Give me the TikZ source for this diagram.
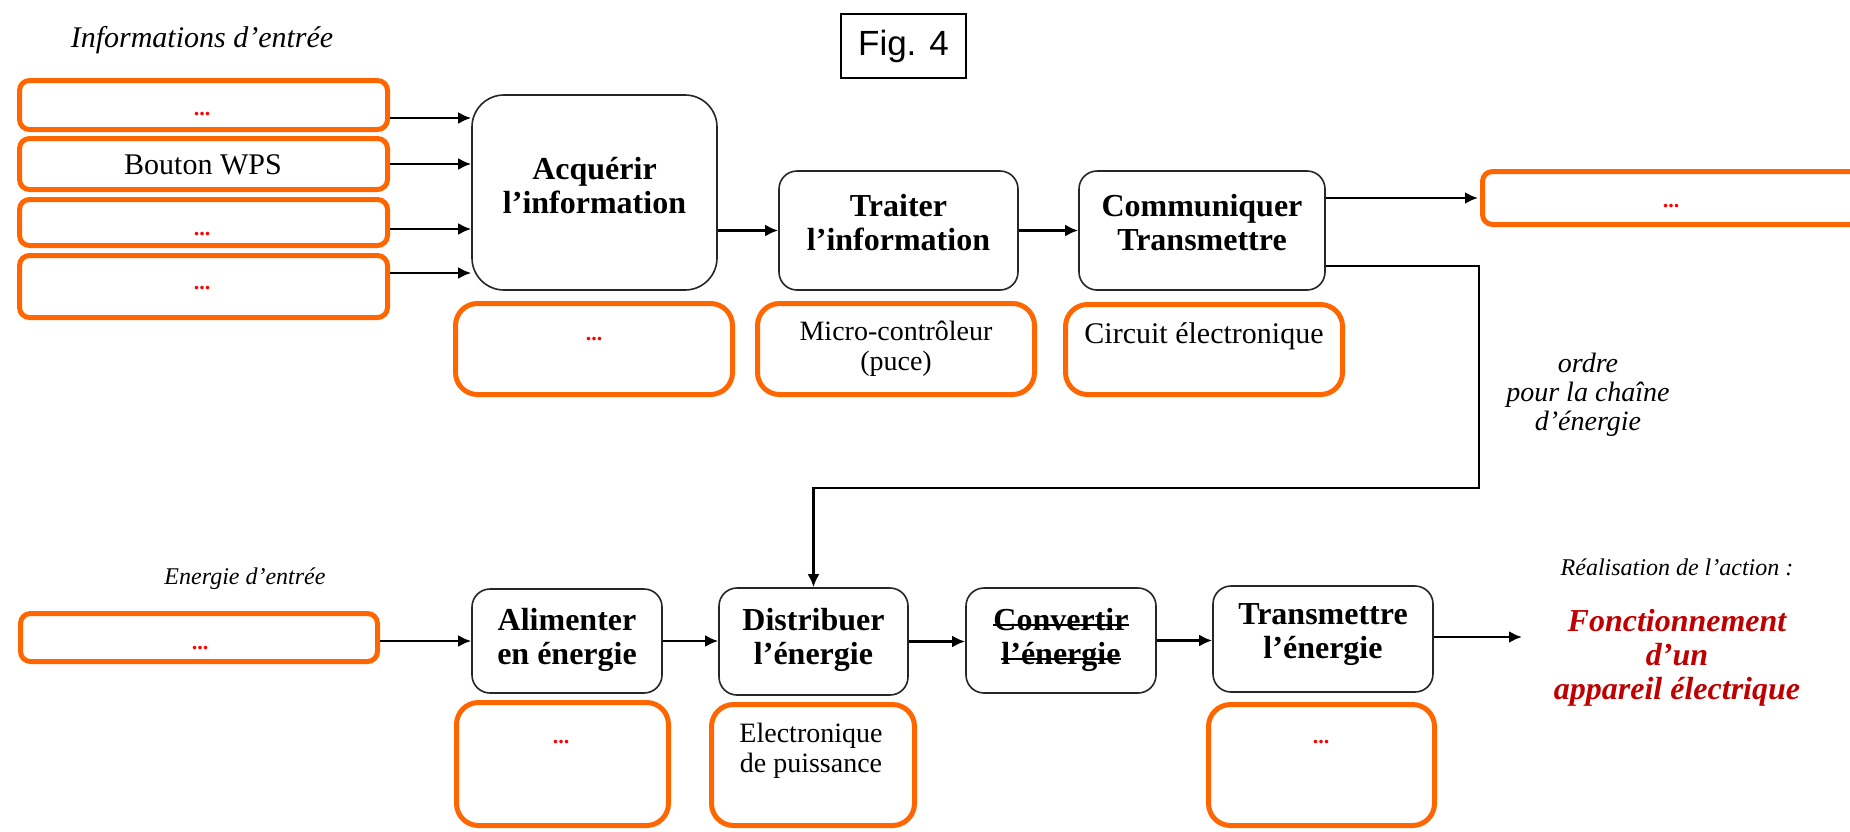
\documentclass[tikz,border=0pt]{standalone}
\usepackage{fontspec}
\setmainfont{Liberation Serif}
\newfontfamily\figfont{Liberation Sans}
\newcommand{\mystrike}[1]{\setbox0\hbox{#1}\rlap{\rule[0.3ex]{\wd0}{1.8pt}}\box0}
\usetikzlibrary{arrows.meta}
\definecolor{ora}{HTML}{FF6600}
\definecolor{fred}{HTML}{C00000}
\definecolor{dotred}{HTML}{FF0000}
\begin{document}
\begin{tikzpicture}[x=1pt,y=-1pt,
  fbox/.style={draw=black!85, line width=1.6pt, rounded corners=#1, inner sep=0pt},
  fbox/.default=18pt,
  obox/.style={draw=ora, line width=5pt, rounded corners=#1, inner sep=0pt},
  obox/.default=10pt,
  lab/.style={font=\fontsize{32}{34}\selectfont\bfseries, align=center, inner sep=0pt},
  subtxt/.style={font=\fontsize{28}{30}\selectfont, align=center, inner sep=0pt},
  dots/.style={text=dotred, font=\fontsize{22}{24}\selectfont\bfseries, anchor=base, inner sep=0pt},
  itl/.style={font=\fontsize{#1}{#1}\selectfont\itshape, inner sep=0pt, align=center},
  arr/.style={line width=2.6pt, -{Latex[length=13pt,width=12pt]}}
]
\useasboundingbox (0,0) rectangle (1850,831);
\fill[white] (0,0) rectangle (1850,831);

% ---- title labels
\node[itl=30] (infoT) at (202,40) {Informations d’entrée};
\node[draw=black, line width=1.5pt, minimum width=125pt, minimum height=64pt, inner sep=0pt,
      font=\figfont\fontsize{35}{35}\selectfont] (fig) at (903.5,46) {Fig. 4};

% ---- input boxes
\node[obox, minimum width=368pt, minimum height=49pt] (in1) at (203.5,105) {};
\node[obox, minimum width=368pt, minimum height=51pt] (in2) at (203.5,164) {};
\node[obox, minimum width=368pt, minimum height=46pt] (in3) at (203.5,222.5) {};
\node[obox, minimum width=368pt, minimum height=62pt] (in4) at (203.5,286.5) {};
\node[dots] (in1T) at (202,115) {...};
\node[anchor=base, inner sep=0pt, font=\fontsize{30}{30}\selectfont] (in2T) at (203,174) {Bouton WPS};
\node[dots] (in3T) at (202,235) {...};
\node[dots] (in4T) at (202,289) {...};

% ---- information chain
\node[fbox=32pt, minimum width=245pt, minimum height=195pt] (acq) at (594.5,192.5) {};
\node[lab] (acqT) at (594.5,186) {Acquérir\\l’information};
\node[obox=22pt, minimum width=277pt, minimum height=91pt] (acqS) at (594,349) {};
\node[dots] (acqST) at (594,340) {...};

\node[fbox, minimum width=239pt, minimum height=119pt] (trait) at (898.5,230.5) {};
\node[lab] (traitT) at (898.5,222.5) {Traiter\\l’information};
\node[obox=22pt, minimum width=277pt, minimum height=91pt] (traitS) at (896,349) {};
\node[subtxt] (traitST) at (896,349) {Micro-contrôleur\\(puce)};

\node[fbox, minimum width=246pt, minimum height=119pt] (comm) at (1202,230.5) {};
\node[lab] (commT) at (1202,223) {Communiquer\\Transmettre};
\node[obox=22pt, minimum width=277pt, minimum height=90pt] (commS) at (1204,349.5) {};
\node[anchor=base, inner sep=0pt, font=\fontsize{30}{30}\selectfont] (commST) at (1204,343) {Circuit électronique};

\node[obox, minimum width=377pt, minimum height=53pt] (out) at (1671,198) {};
\node[dots] (outT) at (1671,207) {...};

\node[inner sep=0pt, align=center, font=\fontsize{28}{29}\selectfont\itshape] (ordT) at (1588,395) {ordre\\pour la chaîne\\d’énergie};

% ---- energy chain
\node[itl=24] (eneL) at (245,579) {Energie d’entrée};
\node[obox, minimum width=357pt, minimum height=48pt] (ene) at (199,637.5) {};
\node[dots] (eneT) at (200,649) {...};

\node[fbox, minimum width=190pt, minimum height=104pt] (alim) at (567,641) {};
\node[lab] (alimT) at (567,640) {Alimenter\\en énergie};
\node[obox=22pt, minimum width=212pt, minimum height=123pt] (alimS) at (562.5,764) {};
\node[dots] (alimST) at (561,743) {...};

\node[fbox, minimum width=189pt, minimum height=107pt] (dist) at (813.5,641.5) {};
\node[lab] (distT) at (813.5,640) {Distribuer\\l’énergie};
\node[obox=22pt, minimum width=203pt, minimum height=121pt] (distS) at (813,765) {};
\node[subtxt] (distST) at (811,751) {Electronique\\de puissance};

\node[fbox, minimum width=190pt, minimum height=105pt] (conv) at (1061,640.5) {};
\node[lab] (convT) at (1061,640) {\mystrike{Convertir}\\\mystrike{l’énergie}};

\node[fbox, minimum width=220pt, minimum height=106pt] (trans) at (1323,639) {};
\node[lab] (transT) at (1323,635) {Transmettre\\l’énergie};
\node[obox=22pt, minimum width=226pt, minimum height=121pt] (transS) at (1321.5,765) {};
\node[dots] (transST) at (1321,743) {...};

\node[itl=24, anchor=base] (realT) at (1677,575) {Réalisation de l’action :};
\node[font=\fontsize{32}{34}\selectfont\bfseries\itshape, text=fred, align=center, inner sep=0pt]
  (foncT) at (1677,658) {Fonctionnement\\d’un\\appareil électrique};

% ---- connectors
\coordinate (y1) at (0,118);
\coordinate (y2) at (0,164);
\coordinate (y3) at (0,229);
\coordinate (y4) at (0,273);
\draw[arr] (in1.east |- y1) -- (acq.west |- y1);
\draw[arr] (in2.east |- y2) -- (acq.west |- y2);
\draw[arr] (in3.east |- y3) -- (acq.west |- y3);
\draw[arr] (in4.east |- y4) -- (acq.west |- y4);
\draw[arr] (acq.east |- trait.west) -- (trait.west);
\draw[arr] (trait.east) -- (comm.west);
\draw[arr, shorten >=2pt] (comm.east |- out.west) -- (out.west);
\coordinate (k1) at (1479,266);
\coordinate (k2) at (1479,488);
\draw[arr] (comm.east |- k1) -- (k1) -- (k2) -| (dist.north);

\draw[arr] (ene.east |- alim.west) -- (alim.west);
\draw[arr] (alim.east) -- (dist.west |- alim.east);
\draw[arr] (dist.east) -- (conv.west |- dist.east);
\draw[arr] (conv.east) -- (trans.west |- conv.east);
\coordinate (act) at (1522,637);
\draw[arr] (trans.east |- act) -- (act);
\end{tikzpicture}
\end{document}
